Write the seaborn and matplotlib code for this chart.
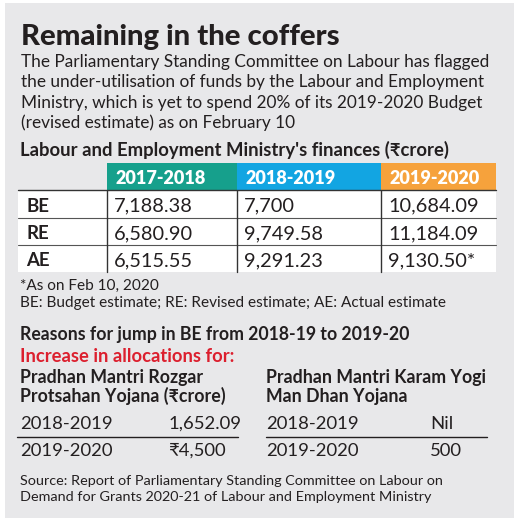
import matplotlib
matplotlib.use('Agg')
import matplotlib.pyplot as plt
from matplotlib.colors import ListedColormap
from matplotlib.lines import Line2D
from matplotlib.patches import Rectangle
import seaborn as sns
import pandas as pd

# data
years = ['2017-2018', '2018-2019', '2019-2020']
rows = ['BE', 'RE', 'AE']
be_vals = [7188.38, 7700, 10684.09]
re_vals = [6580.90, 9749.58, 11184.09]
ae_vals = [6515.55, 9291.23, 9130.50]
ae_note = ['', '', '*']

jump_years = ['2018-2019', '2019-2020']
pmrpy_vals = ['1,652.09', '₹4,500']
pmkymdy_vals = ['Nil', '500']

# style
W, H = 520, 524
panel_col = '#e8e8ea'
ink = '#231f20'
year_colors = ['#16a08c', '#12a5e2', '#f6a23c']
red = '#dc1f2e'

sns.set_theme(style='white')
plt.rcParams['font.family'] = ['Lato', 'DejaVu Sans']

fig = plt.figure(figsize=(W / 100, H / 100), dpi=100)
fig.patch.set_facecolor('white')
renderer = fig.canvas.get_renderer()


def fx(x):
    return x / W


def fy(y):
    return 1 - y / H


def txt(x, y, s, size=12, weight='normal', color=ink, **kw):
    return fig.text(fx(x), fy(y), s, fontsize=size, fontweight=weight,
                    color=color, va='baseline', ha='left', **kw)


def fit(t, target):
    w = t.get_window_extent(renderer).width
    t.set_fontsize(t.get_fontsize() * target / w)
    return t.get_fontsize()


def fmt(v):
    return f'{v:,.0f}' if float(v).is_integer() else f'{v:,.2f}'


# background panel
fig.add_artist(Rectangle((fx(5), fy(518)), (514 - 5) / W, (518 - 3) / H,
                         transform=fig.transFigure, facecolor=panel_col,
                         edgecolor='none', zorder=0))

# title and intro
t = txt(21, 45, 'Remaining in the coffers', 20, 'black')
fit(t, 321)
intro = ['The Parliamentary Standing Committee on Labour has flagged',
         'the under-utilisation of funds by the Labour and Employment',
         'Ministry, which is yet to spend 20% of its 2019-2020 Budget',
         '(revised estimate) as on February 10']
intro_y = [67, 87, 108, 128]
t0 = txt(21, intro_y[0], intro[0], 13)
sz = fit(t0, 467)
for s, y in zip(intro[1:], intro_y[1:]):
    txt(21, y, s, sz)

t = txt(20, 156, "Labour and Employment Ministry's finances (₹crore)", 12, 'bold')
fit(t, 425)

# table: one heatmap per column so widths can differ
top, bottom = 163, 272
row_h = (bottom - top) / 4
edges = [18, 107, 237, 381, 496]
table = pd.DataFrame({'BE': be_vals, 'RE': re_vals, 'AE': ae_vals}, index=years).T
cell_txt = {}
head_size = None
lab_size = None
for c in range(4):
    x0, x1 = edges[c], edges[c + 1]
    ax = fig.add_axes([fx(x0), fy(bottom), (x1 - x0) / W, (bottom - top) / H])
    if c == 0:
        shade = pd.DataFrame({'label': [1, 0, 0, 0]})
        cmap = ListedColormap(['white', panel_col])
    else:
        shade = pd.DataFrame({years[c - 1]: [1, 0, 0, 0]})
        cmap = ListedColormap(['white', year_colors[c - 1]])
    sns.heatmap(shade, ax=ax, cmap=cmap, vmin=0, vmax=1, cbar=False,
                xticklabels=False, yticklabels=False)
    cw = x1 - x0
    # lines
    ax.axhline(1, color='#333333', lw=1.0, clip_on=False)
    for r in (2, 3):
        ax.axhline(r, color='#555555', lw=0.8, clip_on=False)
    if c > 0:
        ax.plot([0, 0], [1, 4], color='#333333', lw=1.0, clip_on=False)
    base_off = 21.5 / row_h
    if c == 0:
        for r, lab in enumerate(rows):
            tt = ax.text(8 / cw, r + 1 + base_off, lab, fontsize=13,
                         fontweight='bold', color=ink, va='baseline')
            if lab_size is None:
                lab_size = fit(tt, 23)
            else:
                tt.set_fontsize(lab_size)
    else:
        yr = years[c - 1]
        ht = ax.text(8 / cw, base_off, yr, fontsize=13, fontweight='heavy',
                     color='white', va='baseline')
        if head_size is None:
            head_size = fit(ht, 90)
        else:
            ht.set_fontsize(head_size)
        for r, lab in enumerate(rows):
            s = fmt(table.loc[lab, yr])
            if lab == 'AE':
                s += ae_note[c - 1]
            tt = ax.text(7 / cw, r + 1 + base_off, s, fontsize=13,
                         color=ink, va='baseline')
            cell_txt[(lab, yr)] = tt
num_size = fit(cell_txt[('BE', '2019-2020')], 90)
for tt in cell_txt.values():
    tt.set_fontsize(num_size)

# notes
t = txt(20, 307, 'BE: Budget estimate; RE: Revised estimate; AE: Actual estimate', 11)
nsz = fit(t, 423)
txt(20, 290, '*As on Feb 10, 2020', nsz)

# reasons
t = txt(20, 340, 'Reasons for jump in BE from 2018-19 to 2019-20', 12, 'bold')
fit(t, 387)
t = txt(20, 362, 'Increase in allocations for:', 12, 'bold', color=red)
fit(t, 212)
t = txt(266, 383, 'Pradhan Mantri Karam Yogi', 12, 'bold')
psz = fit(t, 218)
txt(266, 402, 'Man Dhan Yojana', psz, 'bold')
txt(20, 383, 'Pradhan Mantri Rozgar', psz, 'bold')
txt(20, 402, 'Protsahan Yojana (₹crore)', psz, 'bold')

ysz = None
for i, (yr, y) in enumerate(zip(jump_years, [429, 456])):
    t = txt(20, y, yr, 13)
    if ysz is None:
        ysz = fit(t, 92)
    else:
        t.set_fontsize(ysz)
    txt(169, y, pmrpy_vals[i], ysz)
    txt(266, y, yr, ysz)
    txt(430, y, pmkymdy_vals[i], ysz)
fig.add_artist(Line2D([fx(17), fx(238)], [fy(437), fy(437)], color=ink, lw=1.0))
fig.add_artist(Line2D([fx(266), fx(487)], [fy(437), fy(437)], color=ink, lw=1.0))

# source
t = txt(20, 485, 'Source: Report of Parliamentary Standing Committee on Labour on', 11)
ssz = fit(t, 422)
txt(20, 501, 'Demand for Grants 2020-21 of Labour and Employment Ministry', ssz)

fig.savefig('out.png', dpi=100, facecolor='white')
